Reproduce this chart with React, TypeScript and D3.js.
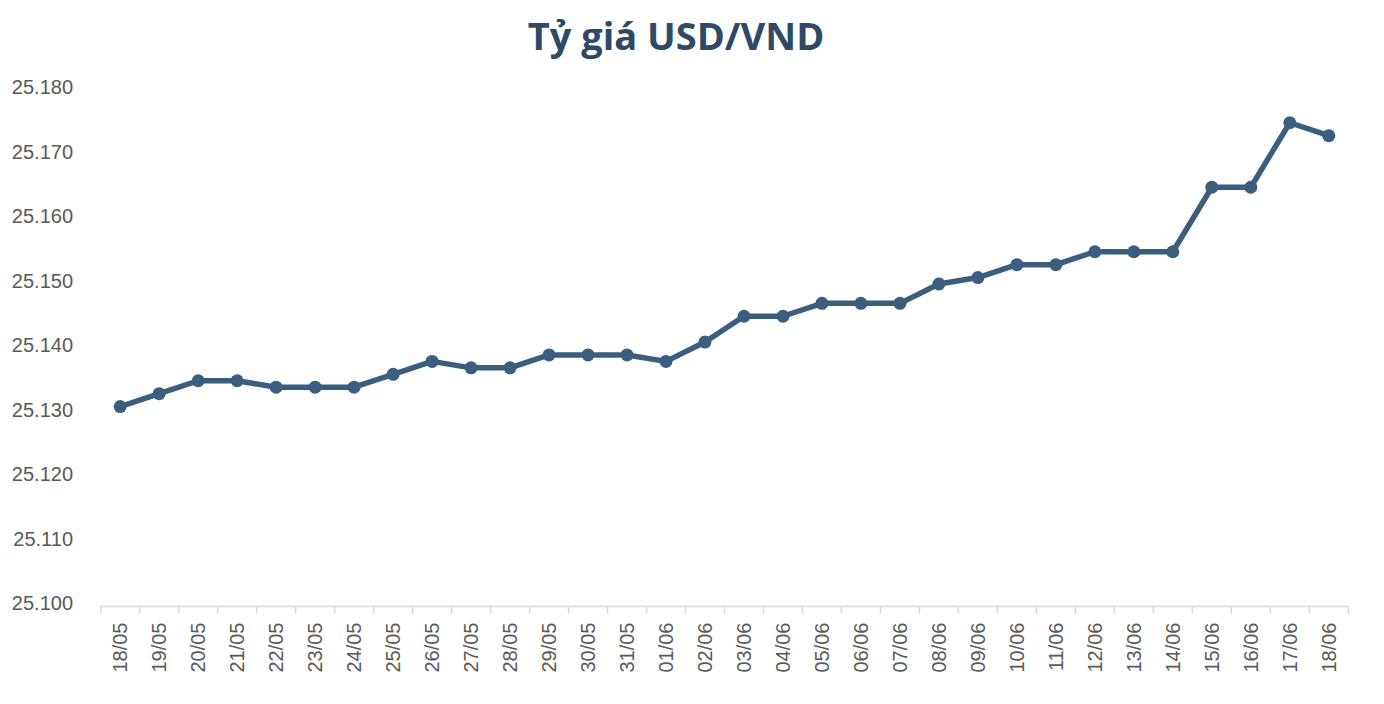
import * as d3 from "d3";

const dates = [
  "18/05", "19/05", "20/05", "21/05", "22/05", "23/05", "24/05", "25/05",
  "26/05", "27/05", "28/05", "29/05", "30/05", "31/05", "01/06", "02/06",
  "03/06", "04/06", "05/06", "06/06", "07/06", "08/06", "09/06", "10/06",
  "11/06", "12/06", "13/06", "14/06", "15/06", "16/06", "17/06", "18/06",
];

const rates = [
  25131, 25133, 25135, 25135, 25134, 25134, 25134, 25136,
  25138, 25137, 25137, 25139, 25139, 25139, 25138, 25141,
  25145, 25145, 25147, 25147, 25147, 25150, 25151, 25153,
  25153, 25155, 25155, 25155, 25165, 25165, 25175, 25173,
];

const yTicks = [25100, 25110, 25120, 25130, 25140, 25150, 25160, 25170, 25180];

const title = "Tỷ giá USD/VND";

const width = 1384;
const height = 704;

const App = () => {
  const xScale = d3
    .scaleBand()
    .domain(dates)
    .range([100.7, 1348.3])
    .padding(0);
  const yScale = d3.scaleLinear().domain([25100, 25180]).range([606.5, 90.5]);

  const fmt = (v) => d3.format(",")(v).replace(/,/g, ".");

  const lineGenerator = d3
    .line()
    .x((d, i) => xScale(dates[i]) + xScale.bandwidth() / 2)
    .y((d) => yScale(d));

  const axisColor = "#d9d9d9";
  const labelColor = "#595959";
  const lineColor = "#3b5e7e";
  const bottom = yScale(25100);

  return (
    <svg
      width={width}
      height={height}
      style={{ position: "absolute", left: 0, top: 0, background: "#fff" }}
    >
      <text
        x={676}
        y={50}
        textAnchor="middle"
        fontFamily="'Open Sans', sans-serif"
        fontWeight={700}
        fontSize={38}
        fill="#2e4a66"
      >
        {title}
      </text>

      <g fontFamily="'Liberation Sans', Arial, sans-serif" fontSize={20} fill={labelColor}>
        {yTicks.map((t) => (
          <text key={t} x={73} y={yScale(t) - 1.5} textAnchor="end" dominantBaseline="middle">
            {fmt(t)}
          </text>
        ))}
      </g>

      <line x1={xScale.range()[0]} x2={xScale.range()[1]} y1={bottom} y2={bottom} stroke={axisColor} strokeWidth={1.5} />
      {dates.map((d) => (
        <line
          key={`tick-${d}`}
          x1={xScale(d)}
          x2={xScale(d)}
          y1={bottom}
          y2={bottom + 7}
          stroke={axisColor}
          strokeWidth={1.5}
        />
      ))}
      <line
        x1={xScale.range()[1]}
        x2={xScale.range()[1]}
        y1={bottom}
        y2={bottom + 7}
        stroke={axisColor}
        strokeWidth={1.5}
      />

      <g fontFamily="'Liberation Sans', Arial, sans-serif" fontSize={20} fill={labelColor}>
        {dates.map((d) => {
          const cx = xScale(d) + xScale.bandwidth() / 2;
          return (
            <text
              key={`lbl-${d}`}
              transform={`translate(${cx + 7}, ${bottom + 16}) rotate(-90)`}
              textAnchor="end"
            >
              {d}
            </text>
          );
        })}
      </g>

      <path
        d={lineGenerator(rates)}
        fill="none"
        stroke={lineColor}
        strokeWidth={5.5}
        strokeLinejoin="round"
      />
      {rates.map((v, i) => (
        <circle
          key={`pt-${i}`}
          cx={xScale(dates[i]) + xScale.bandwidth() / 2}
          cy={yScale(v)}
          r={6.5}
          fill={lineColor}
        />
      ))}
    </svg>
  );
};

export default App;
